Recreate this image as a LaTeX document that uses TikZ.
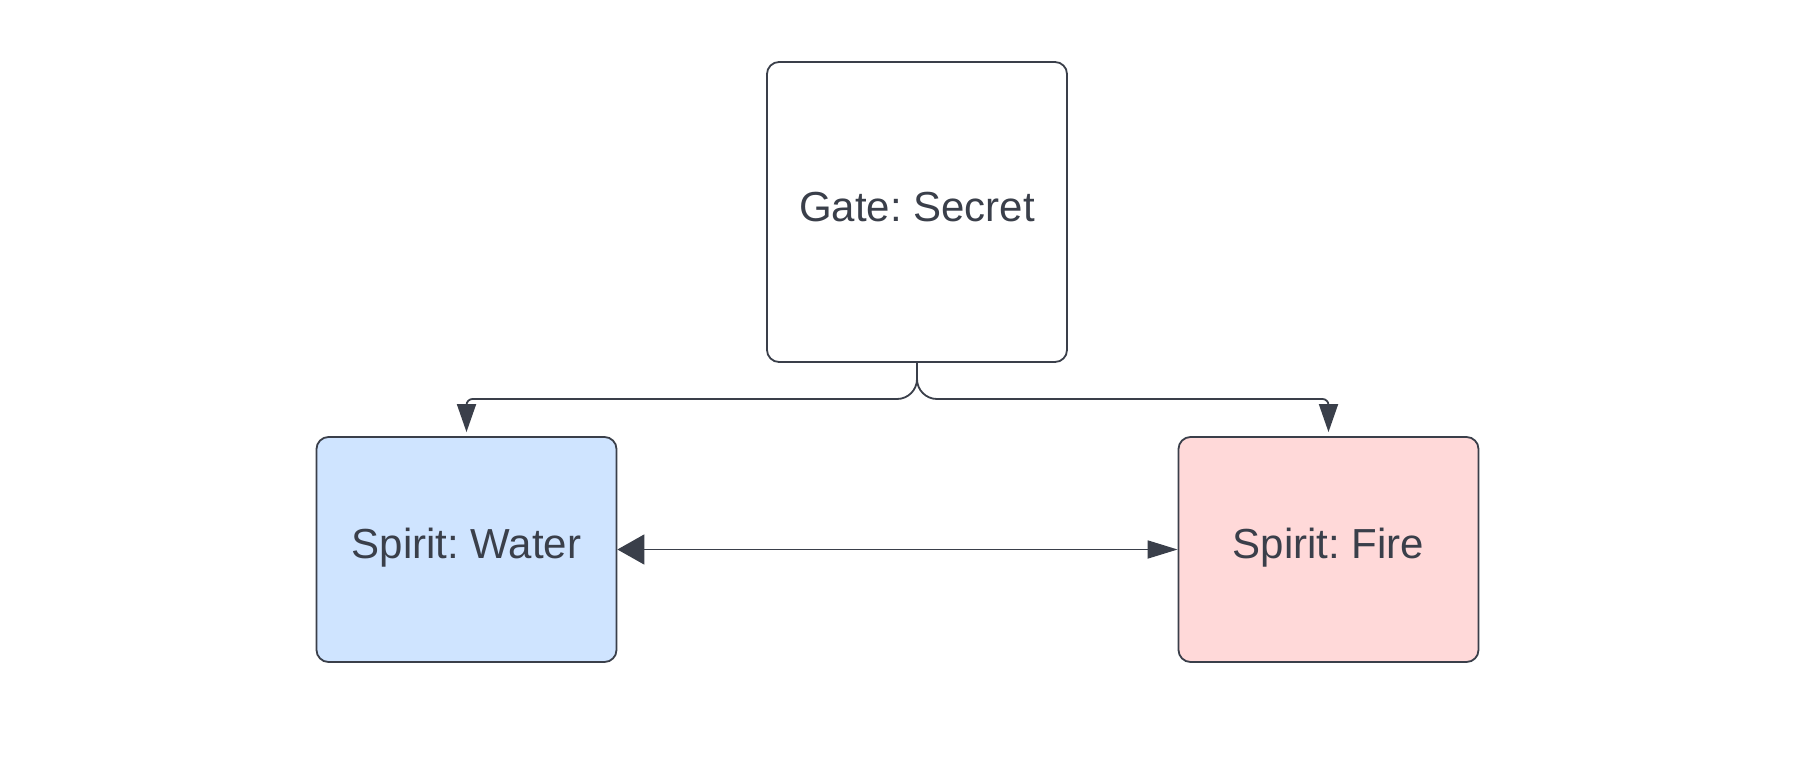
\documentclass[tikz,border=0pt]{standalone}
\usepackage{fontspec}
\setmainfont{Liberation Sans}
\usetikzlibrary{arrows.meta}
\definecolor{ink}{HTML}{3A3F4A}
\definecolor{waterfill}{HTML}{CFE4FF}
\definecolor{firefill}{HTML}{FFD9D9}
\frenchspacing
\begin{document}
\begin{tikzpicture}[x=.5pt,y=-.5pt,
  box/.style={draw=ink,line width=.9pt,rounded corners=6pt,text=ink,font=\fontsize{21}{25}\selectfont,
    text height=15pt,text depth=6pt,minimum width=150pt},
  link/.style={draw=ink,line width=.9pt}]
\useasboundingbox (0,0) rectangle (1811,771);
\node[box,minimum height=150pt] (gate) at (917,212) {Gate: Secret};
\node[box,fill=waterfill,minimum height=112.5pt] (water) at (466.5,549.5) {Spirit: Water};
\node[box,fill=firefill,minimum height=112.5pt] (fire) at (1328.5,549.5) {Spirit: Fire};
\coordinate (split) at (917,399);
\draw[link,rounded corners=10pt,-{Triangle[length=14pt,width=9.5pt]}] (gate.south)--(split)[rounded corners=3pt]-|([yshift=2pt]water.north);
\draw[link,rounded corners=10pt,-{Triangle[length=14pt,width=9.5pt]}] (gate.south)--(split)[rounded corners=3pt]-|([yshift=2pt]fire.north);
\draw[link,{Triangle[length=13.5pt,width=15pt]}-{Triangle[length=15pt,width=9pt]}] (water.east)--(fire.west);
\end{tikzpicture}
\end{document}
